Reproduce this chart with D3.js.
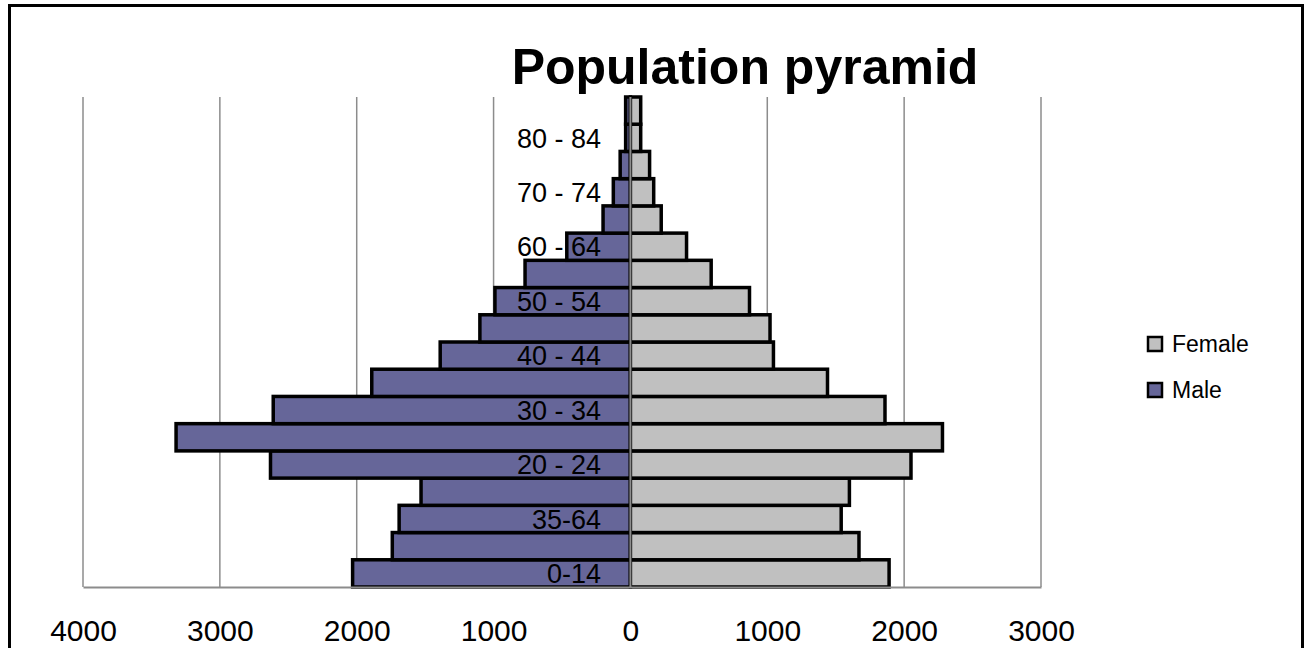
<!DOCTYPE html>
<html>
<head>
<meta charset="utf-8">
<script src="https://cdn.jsdelivr.net/npm/d3@7"></script>
<style>
  body { margin: 0; background: #fff; }
  svg { display: block; }
</style>
</head>
<body>
<div id="chart"></div>
<script>
// age groups, bottom to top
const ageGroups = ["0-14", "5 - 9", "35-64", "15 - 19", "20 - 24", "25 - 29", "30 - 34", "35 - 39",
                   "40 - 44", "45 - 49", "50 - 54", "55 - 59", "60 - 64", "65 - 69", "70 - 74",
                   "75 - 79", "80 - 84", "85+"];
const male   = [2030, 1740, 1690, 1530, 2630, 3320, 2610, 1890, 1390, 1100, 990, 770, 465, 200, 125, 75, 35, 35];
const female = [1890, 1670, 1540, 1600, 2050, 2280, 1860, 1440, 1045, 1020, 870, 590, 410, 225, 170, 140, 75, 75];
const xTicks = [-4000, -3000, -2000, -1000, 0, 1000, 2000, 3000];
const seriesNames = ["Female", "Male"];

const width = 1306, height = 648;
const plotTop = 97, plotBottom = 587;

const maleColor = "#666699";
const femaleColor = "#c0c0c0";
const gridColor = "#8c8c8c";

const svg = d3.select("#chart")
    .append("svg")
    .attr("width", width)
    .attr("height", height);

// outer frame
svg.append("rect")
    .attr("x", 9.5)
    .attr("y", 5.5)
    .attr("width", 1293)
    .attr("height", 700)
    .attr("fill", "#fff")
    .attr("stroke", "#000")
    .attr("stroke-width", 3);

const xScale = d3.scaleLinear()
    .domain([-4000, 3000])
    .range([83, 1041]);

const yScale = d3.scaleBand()
    .domain(ageGroups)
    .range([plotBottom, plotTop])
    .padding(0);

// vertical gridlines
svg.append("g")
    .selectAll("line")
    .data(xTicks.filter(d => d !== 0))
    .enter()
    .append("line")
    .attr("x1", d => xScale(d))
    .attr("x2", d => xScale(d))
    .attr("y1", plotTop)
    .attr("y2", plotBottom)
    .attr("stroke", gridColor)
    .attr("stroke-width", 1.5);

const rows = ageGroups.map((g, i) => ({ group: g, male: male[i], female: female[i] }));

// male bars (to the left)
svg.append("g")
    .selectAll("rect")
    .data(rows)
    .enter()
    .append("rect")
    .attr("x", d => xScale(-d.male))
    .attr("y", d => yScale(d.group))
    .attr("width", d => xScale(0) - xScale(-d.male))
    .attr("height", yScale.bandwidth())
    .attr("fill", maleColor)
    .attr("stroke", "#000")
    .attr("stroke-width", 3.5);

// female bars (to the right)
svg.append("g")
    .selectAll("rect")
    .data(rows)
    .enter()
    .append("rect")
    .attr("x", xScale(0))
    .attr("y", d => yScale(d.group))
    .attr("width", d => xScale(d.female) - xScale(0))
    .attr("height", yScale.bandwidth())
    .attr("fill", femaleColor)
    .attr("stroke", "#000")
    .attr("stroke-width", 3.5);

// zero axis line
svg.append("line")
    .attr("x1", xScale(0))
    .attr("x2", xScale(0))
    .attr("y1", plotTop)
    .attr("y2", plotBottom)
    .attr("stroke", gridColor)
    .attr("stroke-width", 2);

// bottom axis
const xAxis = d3.axisBottom(xScale)
    .tickValues(xTicks)
    .tickSize(0)
    .tickPadding(33)
    .tickFormat(d => Math.abs(d));

const gx = svg.append("g")
    .attr("transform", `translate(0, ${plotBottom})`)
    .call(xAxis);
gx.select(".domain")
    .attr("stroke", gridColor)
    .attr("stroke-width", 2);
gx.selectAll("text")
    .attr("font-family", "'Liberation Sans', Arial, sans-serif")
    .attr("font-size", 30)
    .attr("fill", "#000");

// category labels, every other one
svg.append("g")
    .selectAll("text")
    .data(ageGroups.filter((d, i) => i % 2 === 0))
    .enter()
    .append("text")
    .attr("x", 601)
    .attr("y", d => yScale(d) + yScale.bandwidth() / 2)
    .attr("dy", "0.36em")
    .attr("text-anchor", "end")
    .attr("font-family", "'Liberation Sans', Arial, sans-serif")
    .attr("font-size", 27)
    .attr("fill", "#000")
    .text(d => d);

// title
svg.append("text")
    .attr("x", 745)
    .attr("y", 84)
    .attr("text-anchor", "middle")
    .attr("font-family", "'Liberation Sans', Arial, sans-serif")
    .attr("font-weight", "bold")
    .attr("font-size", 50)
    .attr("fill", "#000")
    .text("Population pyramid");

// legend
const legend = svg.append("g")
    .selectAll("g")
    .data(seriesNames)
    .enter()
    .append("g")
    .attr("transform", (d, i) => `translate(1148, ${337 + i * 46})`);

legend.append("rect")
    .attr("width", 14)
    .attr("height", 14)
    .attr("fill", d => d === "Male" ? maleColor : femaleColor)
    .attr("stroke", "#000")
    .attr("stroke-width", 2.5);

legend.append("text")
    .attr("x", 24)
    .attr("y", 7)
    .attr("dy", "0.36em")
    .attr("font-family", "'Liberation Sans', Arial, sans-serif")
    .attr("font-size", 23)
    .attr("fill", "#000")
    .text(d => d);
</script>
</body>
</html>
